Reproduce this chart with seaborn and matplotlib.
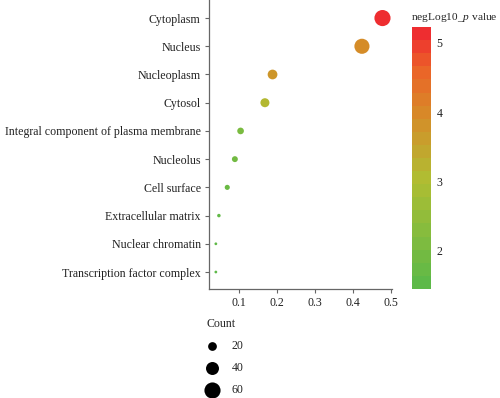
import numpy as np
import pandas as pd
import matplotlib
matplotlib.use("Agg")
import matplotlib.pyplot as plt
import seaborn as sns
from matplotlib.colors import LinearSegmentedColormap, Normalize
from matplotlib.cm import ScalarMappable

# data
terms = ["Cytoplasm", "Nucleus", "Nucleoplasm", "Cytosol",
         "Integral component of plasma membrane", "Nucleolus", "Cell surface",
         "Extracellular matrix", "Nuclear chromatin", "Transcription factor complex"]
ratio = [0.477, 0.423, 0.188, 0.168, 0.104, 0.089, 0.069, 0.047, 0.039, 0.039]
count = [60, 53, 24, 21, 13, 11, 9, 6, 5, 5]
neglog_p = [5.23, 3.95, 3.75, 3.1, 2.0, 1.85, 1.7, 1.55, 1.5, 1.44]
legend_counts = [20, 40, 60]

df = pd.DataFrame({"term": terms, "ratio": ratio, "Count": count, "p": neglog_p})

sns.set_style("white")
plt.rcParams["font.family"] = ["Liberation Serif", "DejaVu Serif"]
plt.rcParams["mathtext.fontset"] = "custom"
plt.rcParams["mathtext.rm"] = "Liberation Serif"
plt.rcParams["mathtext.it"] = "Liberation Serif:italic"

FS = 8.6

cmap = LinearSegmentedColormap.from_list(
    "gr", [(0.0, "#5db948"), (0.41, "#afbe32"), (0.675, "#d78a28"),
           (0.85, "#eb6428"), (1.0, "#ee2d30")])
vmin, vmax = min(neglog_p), max(neglog_p)
norm = Normalize(vmin, vmax)

size_range = (4, 135)
size_norm = (5, 60)

def marker_size(c):
    return size_range[0] + (c - size_norm[0]) / (size_norm[1] - size_norm[0]) * (size_range[1] - size_range[0])

fig = plt.figure(figsize=(5, 3.98), dpi=100)
ax = fig.add_axes([0.418, 0.274, 0.366, 0.726])

sns.scatterplot(data=df, x="ratio", y="term", hue="p", palette=cmap, hue_norm=norm,
                size="Count", sizes=size_range, size_norm=size_norm,
                linewidth=0, alpha=1, legend=False, ax=ax)

ax.set_xlim(0.021, 0.502)
ax.set_ylim(9.6, -0.64)
ax.set_xticks([0.1, 0.2, 0.3, 0.4, 0.5])
ax.set_xticklabels(["0.1", "0.2", "0.3", "0.4", "0.5"])
ax.set_xlabel("")
ax.set_ylabel("")
for s in ["top", "right"]:
    ax.spines[s].set_visible(False)
for s in ["left", "bottom"]:
    ax.spines[s].set_color("#666666")
    ax.spines[s].set_linewidth(0.9)
ax.tick_params(axis="both", length=3, width=0.8, color="#666666", labelsize=FS,
               labelcolor="#222222", pad=3, left=True, bottom=True)

# stepped colour bar
cax = fig.add_axes([0.824, 0.274, 0.038, 0.658])
sm = ScalarMappable(norm=norm, cmap=cmap.resampled(20))
cb = fig.colorbar(sm, cax=cax)
cb.outline.set_visible(False)
cb.set_ticks([2, 3, 4, 5])
cax.tick_params(length=4, width=0.8, color="white", labelsize=FS, labelcolor="#222222",
                direction="in", pad=4)
fig.text(0.822, 0.955, "negLog10_$p$ value", fontsize=8.2, color="#222222", va="center")

# size legend
handles = [ax.scatter([], [], s=marker_size(c), color="black", linewidth=0) for c in legend_counts]
leg = fig.legend(handles, [str(c) for c in legend_counts], title="Count",
                 loc="upper left", bbox_to_anchor=(0.397, 0.222), frameon=False,
                 fontsize=FS, title_fontsize=FS, labelspacing=0.85,
                 handlelength=0.85, handletextpad=1.2, borderpad=0.2)
leg._legend_box.align = "left"

fig.savefig("out.png", dpi=100)
